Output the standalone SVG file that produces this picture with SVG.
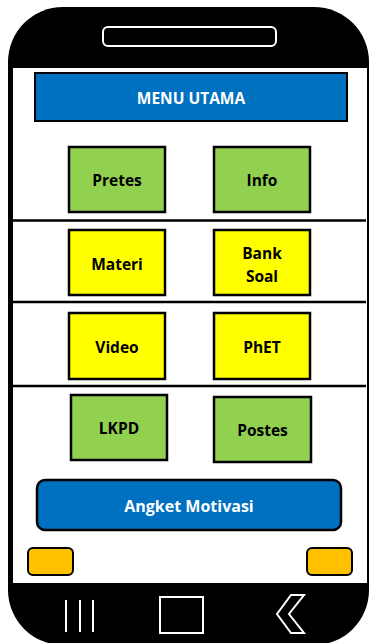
<svg xmlns="http://www.w3.org/2000/svg" width="369" height="643" viewBox="0 0 369 643">
<style>
.box{stroke:#000;stroke-width:2.5}
.g{fill:#92D050}
.y{fill:#FFFF00}
.t{font-family:"Open Sans","Liberation Sans",sans-serif;font-weight:bold;font-size:15.5px;fill:#000;text-anchor:middle}
.w{fill:#fff}
.div{stroke:#000;stroke-width:2.5}
.nav{stroke:#fff;stroke-width:2;fill:none}
.btn{fill:#FFC000;stroke:#000;stroke-width:2}
</style>
<rect width="369" height="643" fill="#fff"/>
<g id="phone">
<rect x="8" y="7" width="361" height="638" rx="55" fill="#000"/>
<rect x="13" y="68" width="354" height="515" fill="#fff"/>
<rect x="103" y="27" width="173" height="19" rx="5" fill="#000" stroke="#fff" stroke-width="2"/>
</g>
<g id="connectors">
<line class="div" x1="13" y1="220.5" x2="366" y2="220.5"/>
<line class="div" x1="13" y1="302" x2="366" y2="302"/>
<line class="div" x1="13" y1="386" x2="366" y2="386"/>
</g>
<g id="menu">
<rect x="35" y="73" width="312" height="48" fill="#0070C0" stroke="#000" stroke-width="2"/>
<text class="t w" x="191" y="104" style="font-size:15.5px">MENU UTAMA</text>
</g>
<g id="pretes"><rect class="box g" x="69" y="147" width="96" height="65"/><text class="t" x="117" y="186">Pretes</text></g>
<g id="info"><rect class="box g" x="214" y="147" width="96" height="65"/><text class="t" x="262" y="186">Info</text></g>
<g id="materi"><rect class="box y" x="69" y="230" width="96" height="65"/><text class="t" x="117" y="270">Materi</text></g>
<g id="banksoal"><rect class="box y" x="214" y="230" width="96" height="65"/><text class="t" x="262" y="259">Bank</text><text class="t" x="262" y="282">Soal</text></g>
<g id="video"><rect class="box y" x="69" y="313" width="96" height="66"/><text class="t" x="117" y="353">Video</text></g>
<g id="phet"><rect class="box y" x="214" y="313" width="96" height="66"/><text class="t" x="262" y="353">PhET</text></g>
<g id="lkpd"><rect class="box g" x="71" y="395" width="96" height="65"/><text class="t" x="119" y="434">LKPD</text></g>
<g id="postes"><rect class="box g" x="214" y="397" width="97" height="65"/><text class="t" x="262.5" y="436">Postes</text></g>
<g id="angket">
<rect x="37" y="480" width="304" height="50" rx="8" fill="#0070C0" stroke="#000" stroke-width="2.5"/>
<text class="t w" x="189" y="512" style="font-size:16px">Angket Motivasi</text>
</g>
<g id="buttons">
<rect class="btn" x="28" y="548" width="45" height="27" rx="5"/>
<rect class="btn" x="307" y="548" width="45" height="27" rx="5"/>
</g>
<g id="navbar">
<line class="nav" x1="66" y1="600" x2="66" y2="632"/>
<line class="nav" x1="80" y1="600" x2="80" y2="632"/>
<line class="nav" x1="93" y1="600" x2="93" y2="632"/>
<rect class="nav" x="160" y="597" width="43" height="36"/>
<polygon class="nav" points="291,595 304,595 289,614 304,633 291,633 277,614"/>
</g>
</svg>
